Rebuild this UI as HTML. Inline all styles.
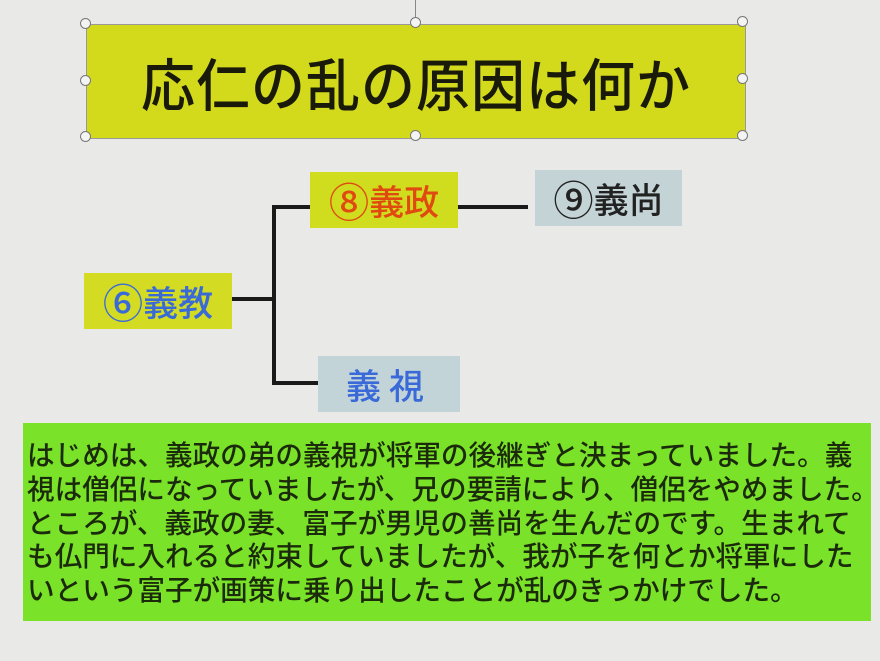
<!DOCTYPE html>
<html><head><meta charset="utf-8"><style>
body{margin:0;width:880px;height:661px;background:#e9e9e7;position:relative;overflow:hidden;font-family:"Liberation Sans","Noto Sans CJK JP",sans-serif}
.b{position:absolute;display:flex;align-items:center;justify-content:center;white-space:nowrap;font-family:"Noto Sans CJK JP",sans-serif;font-weight:500}
.h{position:absolute;width:9px;height:9px;border:1.5px solid #777;border-radius:50%;background:#f4f4f4}
.l{position:absolute;background:#1a1a1a}
.c{font-size:1.15em;line-height:1}
</style></head><body>
<div style="position:absolute;left:415px;top:0;width:1px;height:20px;background:#888"></div>
<div class="b" style="left:86px;top:24px;width:658px;height:113px;background:#d3da1c;border:1px solid #999;font-size:54px;color:#1a1a0a;letter-spacing:1px"><span style="display:inline-block;transform:scaleY(1.05)">応仁の乱の原因は何か</span></div>
<div class="h" style="left:80px;top:18px"></div><div class="h" style="left:410px;top:17px"></div><div class="h" style="left:737px;top:16px"></div>
<div class="h" style="left:80px;top:75px"></div><div class="h" style="left:737px;top:73px"></div>
<div class="h" style="left:80px;top:131px"></div><div class="h" style="left:410px;top:130px"></div><div class="h" style="left:737px;top:130px"></div>
<div class="b" style="left:310px;top:172px;width:148px;height:56px;background:#d0dc1e;color:#e04a10;font-size:35px"><span class="c">⑧</span>義政</div>
<div class="b" style="left:535px;top:170px;width:147px;height:56px;background:#c3d3d6;color:#222;font-size:35px"><span class="c">⑨</span>義尚</div>
<div class="b" style="left:84px;top:273px;width:148px;height:56px;background:#d3dc22;color:#3a6ad8;font-size:35px"><span class="c">⑥</span>義教</div>
<div class="b" style="left:318px;top:356px;width:142px;height:56px;background:#c3d4d8;color:#3a6ad8;font-size:35px;letter-spacing:8px">義視</div>
<div class="l" style="left:232px;top:297px;width:42px;height:4px"></div>
<div class="l" style="left:272px;top:205px;width:4px;height:180px"></div>
<div class="l" style="left:272px;top:205px;width:38px;height:4px"></div>
<div class="l" style="left:272px;top:381px;width:46px;height:4px"></div>
<div class="l" style="left:458px;top:205px;width:70px;height:4px"></div>
<div style="position:absolute;left:23px;top:423px;width:848px;height:198px;background:#7be22a"></div>
<div style="position:absolute;left:27px;top:437px;font-size:27.6px;line-height:33.8px;color:#1a2a0a;white-space:pre;font-family:'Noto Sans CJK JP',sans-serif;font-weight:500">はじめは、義政の弟の義視が将軍の後継ぎと決まっていました。義
視は僧侶になっていましたが、兄の要請により、僧侶をやめました。
ところが、義政の妻、富子が男児の善尚を生んだのです。生まれて
も仏門に入れると約束していましたが、我が子を何とか将軍にした
いという富子が画策に乗り出したことが乱のきっかけでした。</div>
</body></html>
